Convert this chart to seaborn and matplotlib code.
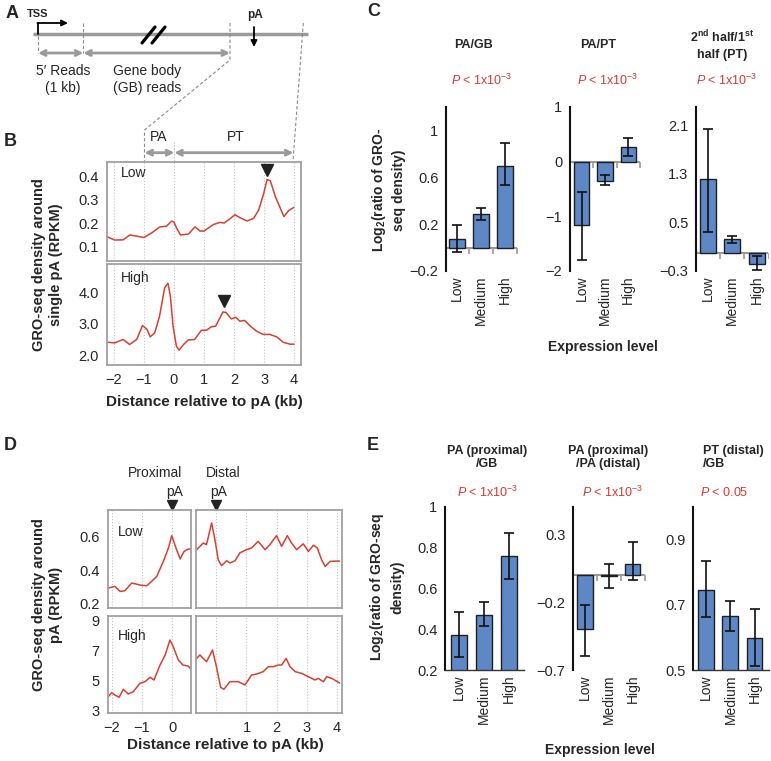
import matplotlib
matplotlib.use('Agg')
import matplotlib.pyplot as plt
import numpy as np
import pandas as pd
import seaborn as sns

sns.set_style('white')
plt.rcParams['font.family'] = ['Liberation Sans', 'DejaVu Sans']
plt.rcParams['mathtext.fontset'] = 'custom'
plt.rcParams['mathtext.rm'] = 'Liberation Sans'
plt.rcParams['mathtext.it'] = 'Liberation Sans:italic'
plt.rcParams['mathtext.bf'] = 'Liberation Sans:bold'

W, H = 771, 761
RED = '#d7402f'
PRED = '#d63a2f'
BLUE = '#5d87c5'
GRAY = '#9a9a9a'

# ---------------- data ----------------
levels = ['Low', 'Medium', 'High']

# B: density around single pA (kb vs RPKM)
b_low_x = [-2.22, -1.97, -1.69, -1.47, -1.24, -1.0, -0.74, -0.47, -0.25, -0.08,
           0.0, 0.09, 0.22, 0.48, 0.70, 0.87, 1.0, 1.31, 1.53, 1.67,
           1.87, 2.03, 2.2, 2.43, 2.65, 2.82, 2.99, 3.1, 3.21, 3.38,
           3.66, 3.82, 3.99]
b_low_y = [0.14, 0.126, 0.127, 0.148, 0.143, 0.137, 0.157, 0.183, 0.186, 0.208,
           0.205, 0.177, 0.148, 0.152, 0.183, 0.165, 0.165, 0.193, 0.203, 0.2,
           0.219, 0.236, 0.223, 0.209, 0.22, 0.256, 0.329, 0.389, 0.383, 0.313,
           0.228, 0.254, 0.268]
b_high_x = [-2.2, -1.98, -1.69, -1.48, -1.24, -1.05, -0.9, -0.79, -0.64, -0.48,
            -0.31, -0.2, -0.12, -0.03, 0.08, 0.17, 0.32, 0.47, 0.69, 0.91,
            1.08, 1.24, 1.39, 1.5, 1.63, 1.74, 1.91, 2.06, 2.19, 2.36,
            2.52, 2.75, 2.97, 3.19, 3.42, 3.64, 3.86, 4.0]
b_high_y = [2.42, 2.40, 2.51, 2.35, 2.51, 2.95, 2.83, 2.59, 2.72, 3.25,
            4.15, 4.29, 3.88, 2.93, 2.30, 2.17, 2.35, 2.49, 2.51, 2.80,
            2.80, 2.91, 2.93, 3.14, 3.38, 3.36, 3.16, 3.21, 3.09, 3.11,
            2.95, 2.77, 2.67, 2.67, 2.59, 2.42, 2.36, 2.36]
b_arrow_x = [3.1, 1.68]
b_arrow_y = [0.43, 3.72]

# D: proximal (left) and distal (right) pA
d_low_left_x = [-2.12, -1.9, -1.73, -1.57, -1.34, -1.01, -0.84, -0.68, -0.51, -0.29,
                -0.12, -0.01, 0.13, 0.27, 0.4, 0.54, 0.6]
d_low_left_y = [0.294, 0.304, 0.274, 0.278, 0.324, 0.31, 0.308, 0.334, 0.363, 0.453,
                0.533, 0.607, 0.533, 0.468, 0.513, 0.527, 0.527]
d_low_right_x = [-0.68, -0.55, -0.44, -0.33, -0.16, -0.05, 0.06, 0.17, 0.34, 0.45,
                 0.62, 0.78, 1.0, 1.17, 1.39, 1.62, 1.78, 2.0, 2.17, 2.36,
                 2.5, 2.67, 2.89, 3.06, 3.23, 3.36, 3.5, 3.62, 3.78, 3.95, 4.1]
d_low_right_y = [0.519, 0.543, 0.563, 0.553, 0.683, 0.583, 0.463, 0.428, 0.457, 0.444,
                 0.457, 0.504, 0.523, 0.533, 0.573, 0.523, 0.553, 0.607, 0.543, 0.607,
                 0.563, 0.523, 0.558, 0.513, 0.55, 0.533, 0.463, 0.423, 0.453, 0.455, 0.455]
d_high_left_x = [-2.12, -2.01, -1.9, -1.76, -1.62, -1.46, -1.29, -1.07, -0.9, -0.73,
                 -0.6, -0.4, -0.23, -0.07, 0.04, 0.21, 0.36, 0.54, 0.6]
d_high_left_y = [3.89, 4.15, 4.0, 3.85, 4.38, 4.07, 4.22, 4.78, 4.89, 5.18,
                 5.0, 6.0, 6.67, 7.67, 7.22, 6.33, 6.0, 5.93, 5.78]
d_high_right_x = [-0.66, -0.55, -0.33, -0.13, 0.0, 0.14, 0.25, 0.45, 0.73, 0.95,
                  1.17, 1.34, 1.56, 1.73, 1.89, 2.06, 2.17, 2.32, 2.45, 2.62,
                  2.84, 3.06, 3.28, 3.39, 3.56, 3.67, 3.85, 4.1]
d_high_right_y = [6.44, 6.67, 6.22, 7.0, 5.89, 4.51, 4.38, 4.89, 4.89, 4.67,
                  5.33, 5.4, 5.56, 5.89, 5.89, 6.0, 6.0, 6.44, 5.89, 5.56,
                  5.44, 5.22, 5.0, 5.11, 4.89, 5.22, 5.1, 4.8]

# C: log2 ratios (value, lower end, upper end of error bar)
c1_val = [0.07, 0.29, 0.70]
c1_lo = [-0.035, 0.235, 0.53]
c1_hi = [0.19, 0.34, 0.89]
c2_val = [-1.15, -0.35, 0.26]
c2_lo = [-1.80, -0.43, 0.10]
c2_hi = [-0.55, -0.25, 0.44]
c3_val = [1.21, 0.23, -0.18]
c3_lo = [0.35, 0.16, -0.28]
c3_hi = [2.03, 0.28, -0.06]

# E
e1_val = [0.372, 0.47, 0.76]
e1_lo = [0.262, 0.417, 0.645]
e1_hi = [0.486, 0.533, 0.873]
e2_val = [-0.396, -0.005, 0.083]
e2_lo = [-0.595, -0.098, -0.04]
e2_hi = [-0.219, 0.083, 0.24]
e3_val = [0.746, 0.666, 0.597]
e3_lo = [0.663, 0.620, 0.512]
e3_hi = [0.834, 0.712, 0.687]

fig = plt.figure(figsize=(W / 100, H / 100), dpi=100)


def px_axes(x0, y0, x1, y1):
    return fig.add_axes([x0 / W, 1 - y1 / H, (x1 - x0) / W, (y1 - y0) / H])


def ftext(x, y, s, **kw):
    kw.setdefault('ha', 'center')
    kw.setdefault('va', 'center')
    fig.text(x / W, 1 - y / H, s, **kw)


def mfmt(v):
    s = ('%g' % v)
    return s.replace('-', '\u2212')


# overlay for the schematic / connecting lines
ov = fig.add_axes([0, 0, 1, 1])
ov.set_xlim(0, W)
ov.set_ylim(H, 0)
ov.axis('off')

dash = dict(color='#8a8a8a', lw=0.8, ls=(0, (3, 2)))
# panel A gene schematic
ov.plot([33, 308], [34, 34], color=GRAY, lw=2.5, solid_capstyle='butt')
ov.plot([38, 38], [34, 23], color='k', lw=1.3)
ov.annotate('', xy=(68, 23), xytext=(37.4, 23),
            arrowprops=dict(arrowstyle='-|>', color='k', lw=1.3, mutation_scale=9,
                            shrinkA=0, shrinkB=0))
ov.plot([142, 155], [43, 27], color='k', lw=2.3)
ov.plot([152, 165], [43, 27], color='k', lw=2.3)
ov.annotate('', xy=(254, 47), xytext=(254, 27),
            arrowprops=dict(arrowstyle='-|>', color='k', lw=1.3, mutation_scale=9,
                            shrinkA=0, shrinkB=0))
ov.plot([38, 38], [36, 53], **dash)
ov.plot([83.3, 83.3], [23, 53], **dash)
ov.plot([230, 230, 144.5, 144.5], [23, 60, 130, 162], **dash)
ov.plot([303.3, 293.3, 293.3], [23, 157, 162], **dash)
ov.plot([174.3, 174.3], [142, 162], color='#aaaaaa', lw=0.8, ls=':')
harrow = dict(arrowstyle='<->', color=GRAY, lw=2, mutation_scale=9, shrinkA=0, shrinkB=0)
ov.annotate('', xy=(83.3, 53), xytext=(38, 53), arrowprops=harrow)
ov.annotate('', xy=(230, 53), xytext=(83.3, 53), arrowprops=harrow)
ov.annotate('', xy=(174.3, 152.7), xytext=(144.5, 152.7), arrowprops=harrow)
ov.annotate('', xy=(293.3, 152.7), xytext=(174.3, 152.7), arrowprops=harrow)

ftext(12, 13, 'A', fontsize=13, fontweight='bold')
ftext(38, 14, 'TSS', fontsize=8, fontweight='bold')
ftext(255, 15, 'pA', fontsize=8.5, fontweight='bold')
ftext(63, 79.5, '5\u2032 Reads\n(1 kb)', fontsize=10, linespacing=1.25)
ftext(147, 79.5, 'Gene body\n(GB) reads', fontsize=10, linespacing=1.25)

ftext(10, 142, 'B', fontsize=13, fontweight='bold')
ftext(159, 137, 'PA', fontsize=10)
ftext(236, 137, 'PT', fontsize=10)


def style_box(ax):
    for sp in ax.spines.values():
        sp.set_visible(True)
        sp.set_color('#a0a0a0')
        sp.set_linewidth(1.3)
    ax.tick_params(axis='both', which='both', direction='out', length=4, width=1,
                   color='#a0a0a0', labelsize=10.5, pad=2)
    ax.grid(axis='x', ls=':', color='#c4c4c4', lw=0.8)
    ax.set_xlabel('')
    ax.set_ylabel('')


def curve(ax, x, y):
    sns.lineplot(x=x, y=y, ax=ax, color=RED, linewidth=1.1)


# ---------------- panel B ----------------
ax_bl = px_axes(107, 162, 301, 261)
ax_bh = px_axes(107, 264, 301, 365)
curve(ax_bl, b_low_x, b_low_y)
curve(ax_bh, b_high_x, b_high_y)
for ax in (ax_bl, ax_bh):
    style_box(ax)
    ax.set_xlim(-2.23, 4.23)
    ax.set_xticks(range(-2, 5))
ax_bl.set_ylim(0.035, 0.465)
ax_bl.set_yticks([0.1, 0.2, 0.3, 0.4])
ax_bl.set_yticklabels(['0.1', '0.2', '0.3', '0.4'])
ax_bl.tick_params(axis='x', labelbottom=False, length=0)
ax_bh.set_ylim(1.7, 4.9)
ax_bh.set_yticks([2, 3, 4])
ax_bh.set_yticklabels(['2.0', '3.0', '4.0'])
ax_bh.set_yticks([2.5, 3.5, 4.5], minor=True)
ax_bh.set_xticklabels([mfmt(v) for v in range(-2, 5)])
ax_bl.plot(b_arrow_x[0], b_arrow_y[0], marker='v', ms=9, color='#222222', clip_on=False)
ax_bh.plot(b_arrow_x[1], b_arrow_y[1], marker='v', ms=9, color='#222222', clip_on=False)
ftext(121, 173, 'Low', fontsize=10, ha='left')
ftext(121, 278, 'High', fontsize=10, ha='left')
ftext(47.5, 265, 'GRO-seq density around\nsingle pA (RPKM)', fontsize=10.5,
      fontweight='bold', rotation=90, linespacing=1.3)
ftext(204.5, 402, 'Distance relative to pA (kb)', fontsize=11, fontweight='bold')

# ---------------- panel D ----------------
ax_dll = px_axes(108, 510, 191, 608)
ax_dlr = px_axes(196, 510, 342, 608)
ax_dhl = px_axes(108, 616, 191, 713)
ax_dhr = px_axes(196, 616, 342, 713)
curve(ax_dll, d_low_left_x, d_low_left_y)
curve(ax_dlr, d_low_right_x, d_low_right_y)
curve(ax_dhl, d_high_left_x, d_high_left_y)
curve(ax_dhr, d_high_right_x, d_high_right_y)
for ax in (ax_dll, ax_dlr, ax_dhl, ax_dhr):
    style_box(ax)
for ax in (ax_dll, ax_dhl):
    ax.set_xlim(-2.13, 0.63)
    ax.set_xticks([-2, -1, 0])
for ax in (ax_dlr, ax_dhr):
    ax.set_xlim(-0.68, 4.18)
    ax.set_xticks([0, 1, 2, 3, 4])
    ax.tick_params(axis='y', left=False, labelleft=False)
for ax in (ax_dll, ax_dlr):
    ax.set_ylim(0.175, 0.76)
    ax.tick_params(axis='x', labelbottom=False, length=2)
for ax in (ax_dhl, ax_dhr):
    ax.set_ylim(2.8, 9.27)
ax_dll.set_yticks([0.2, 0.4, 0.6])
ax_dll.set_yticklabels(['0.2', '0.4', '0.6'])
ax_dll.set_yticks([0.3, 0.5, 0.7], minor=True)
ax_dhl.set_yticks([3, 5, 7, 9])
ax_dhl.set_yticklabels(['3', '5', '7', '9'])
ax_dhl.set_yticks([4, 6, 8], minor=True)
ax_dhl.set_xticklabels([mfmt(v) for v in [-2, -1, 0]])
ax_dhr.set_xticklabels(['', '1', '2', '3', '4'])
for ax in (ax_dll, ax_dlr):
    ax.plot(0, 1.05, marker='v', ms=7, color='#222222', clip_on=False,
            transform=ax.get_xaxis_transform())
ftext(10, 445, 'D', fontsize=13, fontweight='bold')
ftext(155, 473, 'Proximal', fontsize=10)
ftext(174.5, 492, 'pA', fontsize=10)
ftext(223, 473, 'Distal', fontsize=10)
ftext(219, 492, 'pA', fontsize=10)
ftext(118, 532, 'Low', fontsize=10, ha='left')
ftext(118, 636, 'High', fontsize=10, ha='left')
ftext(47.5, 605, 'GRO-seq density around\npA (RPKM)', fontsize=10.5,
      fontweight='bold', rotation=90, linespacing=1.3)
ftext(225, 745, 'Distance relative to pA (kb)', fontsize=11, fontweight='bold')


# ---------------- bar panels ----------------
def bar_panel(box, vals, lo, hi, ylim, ticks, xlim, zero_line):
    ax = px_axes(*box)
    df = pd.DataFrame({'level': levels, 'value': vals})
    sns.barplot(data=df, x='level', y='value', ax=ax, color=BLUE, saturation=1,
                edgecolor='#1f1f1f', linewidth=1.0, width=0.66, errorbar=None, zorder=2)
    v = np.array(vals)
    ax.errorbar(np.arange(len(levels)), v,
                yerr=[v - np.array(lo), np.array(hi) - v],
                fmt='none', ecolor='#111111', elinewidth=1.2, capsize=3.5,
                capthick=1.2, zorder=3)
    ax.set_xlim(*xlim)
    ax.set_ylim(*ylim)
    ax.set_yticks(ticks)
    ax.set_yticklabels([mfmt(t) for t in ticks])
    ax.set_xlabel('')
    ax.set_ylabel('')
    for s in ('top', 'right'):
        ax.spines[s].set_visible(False)
    ax.spines['left'].set_color('#111111')
    ax.spines['left'].set_linewidth(1.5)
    ax.tick_params(axis='y', direction='out', length=4, width=1.2, color='#111111',
                   labelsize=10.5, pad=1.5)
    ax.tick_params(axis='x', which='major', length=0, labelsize=10, pad=3)
    bounds = np.arange(len(levels)) + 0.5
    if zero_line:
        ax.spines['bottom'].set_visible(False)
        ax.axhline(0, color=GRAY, lw=1.5, zorder=1)
        ax.plot(bounds, np.zeros(len(bounds)), ls='', marker=3, ms=4, mew=1.2,
                color=GRAY, zorder=1)
    else:
        ax.spines['bottom'].set_color('#333333')
        ax.spines['bottom'].set_linewidth(1.0)
        ax.set_xticks(bounds, minor=True)
        ax.tick_params(axis='x', which='minor', direction='out', length=4,
                       color='#555555')
    plt.setp(ax.get_xticklabels(), rotation=90, va='top', ha='center')
    return ax


bar_panel((446, 107, 517, 271), c1_val, c1_lo, c1_hi, (-0.2, 1.2),
          [-0.2, 0.2, 0.6, 1.0], (-0.46, 2.5), True)
bar_panel((570, 107, 640, 271), c2_val, c2_lo, c2_hi, (-2, 1),
          [-2, -1, 0, 1], (-0.5, 2.5), True)
bar_panel((696, 107, 768, 271), c3_val, c3_lo, c3_hi, (-0.3, 2.4),
          [-0.3, 0.5, 1.3, 2.1], (-0.48, 2.46), True)

bar_panel((445, 507, 524, 670), e1_val, e1_lo, e1_hi, (0.2, 1.0),
          [0.2, 0.4, 0.6, 0.8, 1.0], (-0.56, 2.6), False)
bar_panel((573, 507, 645, 670), e2_val, e2_lo, e2_hi, (-0.7, 0.5),
          [-0.7, -0.2, 0.3], (-0.49, 2.52), True)
bar_panel((693, 507, 769, 670), e3_val, e3_lo, e3_hi, (0.5, 1.0),
          [0.5, 0.7, 0.9], (-0.55, 2.6), False)

# panel C/E text
ftext(374, 12, 'C', fontsize=13, fontweight='bold')
ftext(473, 45, 'PA/GB', fontsize=9, fontweight='bold')
ftext(598, 45, 'PA/PT', fontsize=9, fontweight='bold')
ftext(722, 45, '2$^{\\mathbf{nd}}$ half/1$^{\\mathbf{st}}$\nhalf (PT)', fontsize=9,
      fontweight='bold', linespacing=1.35)
for xc in (482, 608, 727):
    ftext(xc, 80, '$P$ < 1x10$^{-3}$', fontsize=9, color=PRED)
ftext(388, 190, 'Log$_\\mathbf{2}$(ratio of GRO-\nseq density)', fontsize=10,
      fontweight='bold', rotation=90, linespacing=1.35)
ftext(603, 347, 'Expression level', fontsize=10, fontweight='bold')

ftext(373, 445, 'E', fontsize=13, fontweight='bold')
ftext(487, 457.5, 'PA (proximal)\n/GB', fontsize=9, fontweight='bold',
      multialignment='center', linespacing=1.2)
ftext(608, 457.5, 'PA (proximal)\n/PA (distal)', fontsize=9, fontweight='bold',
      multialignment='center', linespacing=1.2)
ftext(703, 457.5, 'PT (distal)\n/GB', fontsize=9, fontweight='bold', ha='left',
      multialignment='left', linespacing=1.2)
ftext(488, 492, '$P$ < 1x10$^{-3}$', fontsize=9, color=PRED)
ftext(613, 492, '$P$ < 1x10$^{-3}$', fontsize=9, color=PRED)
ftext(700, 492, '$P$ < 0.05', fontsize=9, color=PRED, ha='left')
ftext(386, 587, 'Log$_\\mathbf{2}$(ratio of GRO-seq\ndensity)', fontsize=10,
      fontweight='bold', rotation=90, linespacing=1.35)
ftext(600, 750, 'Expression level', fontsize=10, fontweight='bold')

fig.savefig('out.png', dpi=100)
